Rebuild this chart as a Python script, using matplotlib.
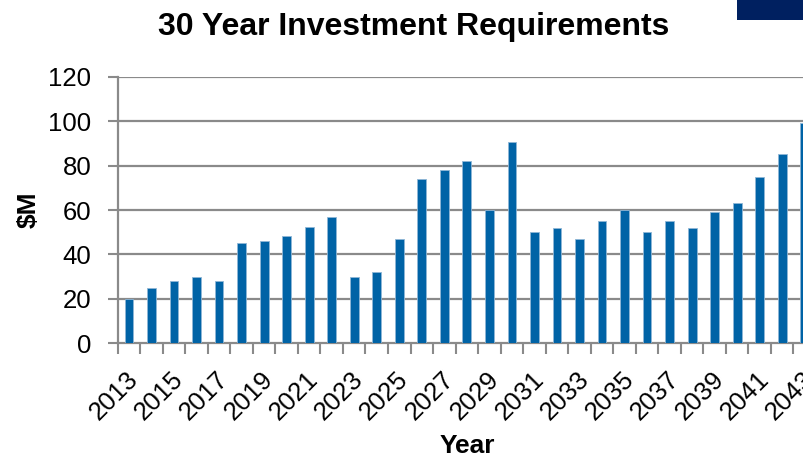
import matplotlib
matplotlib.use("Agg")
import matplotlib.pyplot as plt
from matplotlib.patches import Rectangle
import matplotlib.transforms as mtransforms
import numpy as np

years = list(range(2013, 2044))
values = [20, 25, 28, 30, 28, 45, 46, 48.5, 52.5, 57,
          30, 32, 47, 74, 78, 82, 60, 90.5, 50, 52,
          47, 55, 60, 50, 55, 52, 59, 63, 75, 85, 99]
yticks = [0, 20, 40, 60, 80, 100, 120]
title = "30 Year Investment Requirements"
xlabel = "Year"
ylabel = "$M"

plt.rcParams['font.family'] = ['Liberation Sans', 'DejaVu Sans']

W, H = 804, 457
fig = plt.figure(figsize=(W / 100, H / 100), dpi=100)
fig.patch.set_facecolor('white')

left, right = 117.7, 816.0
top, bottom = 76.7, 343.3
ax = fig.add_axes([left / W, (H - bottom) / H, (right - left) / W, (bottom - top) / H])

x = np.arange(len(years))
ax.bar(x, values, width=0.39, color='#0063a6', edgecolor='#8fb6d6', linewidth=0.6, zorder=3)

grid_c = '#8a8a8a'
ax.set_ylim(0, 120)
ax.set_xlim(-0.5, len(years) - 0.5)
ax.set_yticks(yticks)
ax.set_yticklabels([str(v) for v in yticks], fontsize=18.5)
for v in yticks[1:]:
    ax.axhline(v, color=grid_c, linewidth=1.6, zorder=1)

ax.set_xticks(x[::2])
ax.set_xticklabels([str(y) for y in years[::2]], rotation=45, ha='right', va='top',
                   rotation_mode='anchor', fontsize=18.5)
ax.set_xticks(np.arange(-0.5, len(years)), minor=True)
ax.tick_params(axis='x', which='major', length=0, pad=17)
ax.tick_params(axis='x', which='minor', length=8, width=1.5, color=grid_c, direction='out')
ax.tick_params(axis='y', length=7, width=1.5, color=grid_c, direction='out', pad=12)
shift = mtransforms.ScaledTranslation(-3 / 100, 0, fig.dpi_scale_trans)
for lbl in ax.get_xticklabels():
    lbl.set_transform(lbl.get_transform() + shift)

for s in ['top', 'right']:
    ax.spines[s].set_visible(False)
for s in ['left', 'bottom']:
    ax.spines[s].set_color(grid_c)
    ax.spines[s].set_linewidth(1.6)

fig.text(467 / W, 1 - 446 / H, xlabel, fontsize=19, fontweight='bold', ha='center', va='center')
fig.text(28.5 / W, 1 - 210 / H, ylabel, fontsize=19, fontweight='bold', ha='center', va='center',
         rotation=90)

fig.text(414 / W, 1 - 27 / H, title, fontsize=23, fontweight='bold', ha='center', va='center')
fig.patches.append(Rectangle((737 / W, 1 - 20 / H), 67 / W, 20 / H, transform=fig.transFigure,
                             facecolor='#002060', edgecolor='none', figure=fig))

fig.savefig('out.png', dpi=100)
